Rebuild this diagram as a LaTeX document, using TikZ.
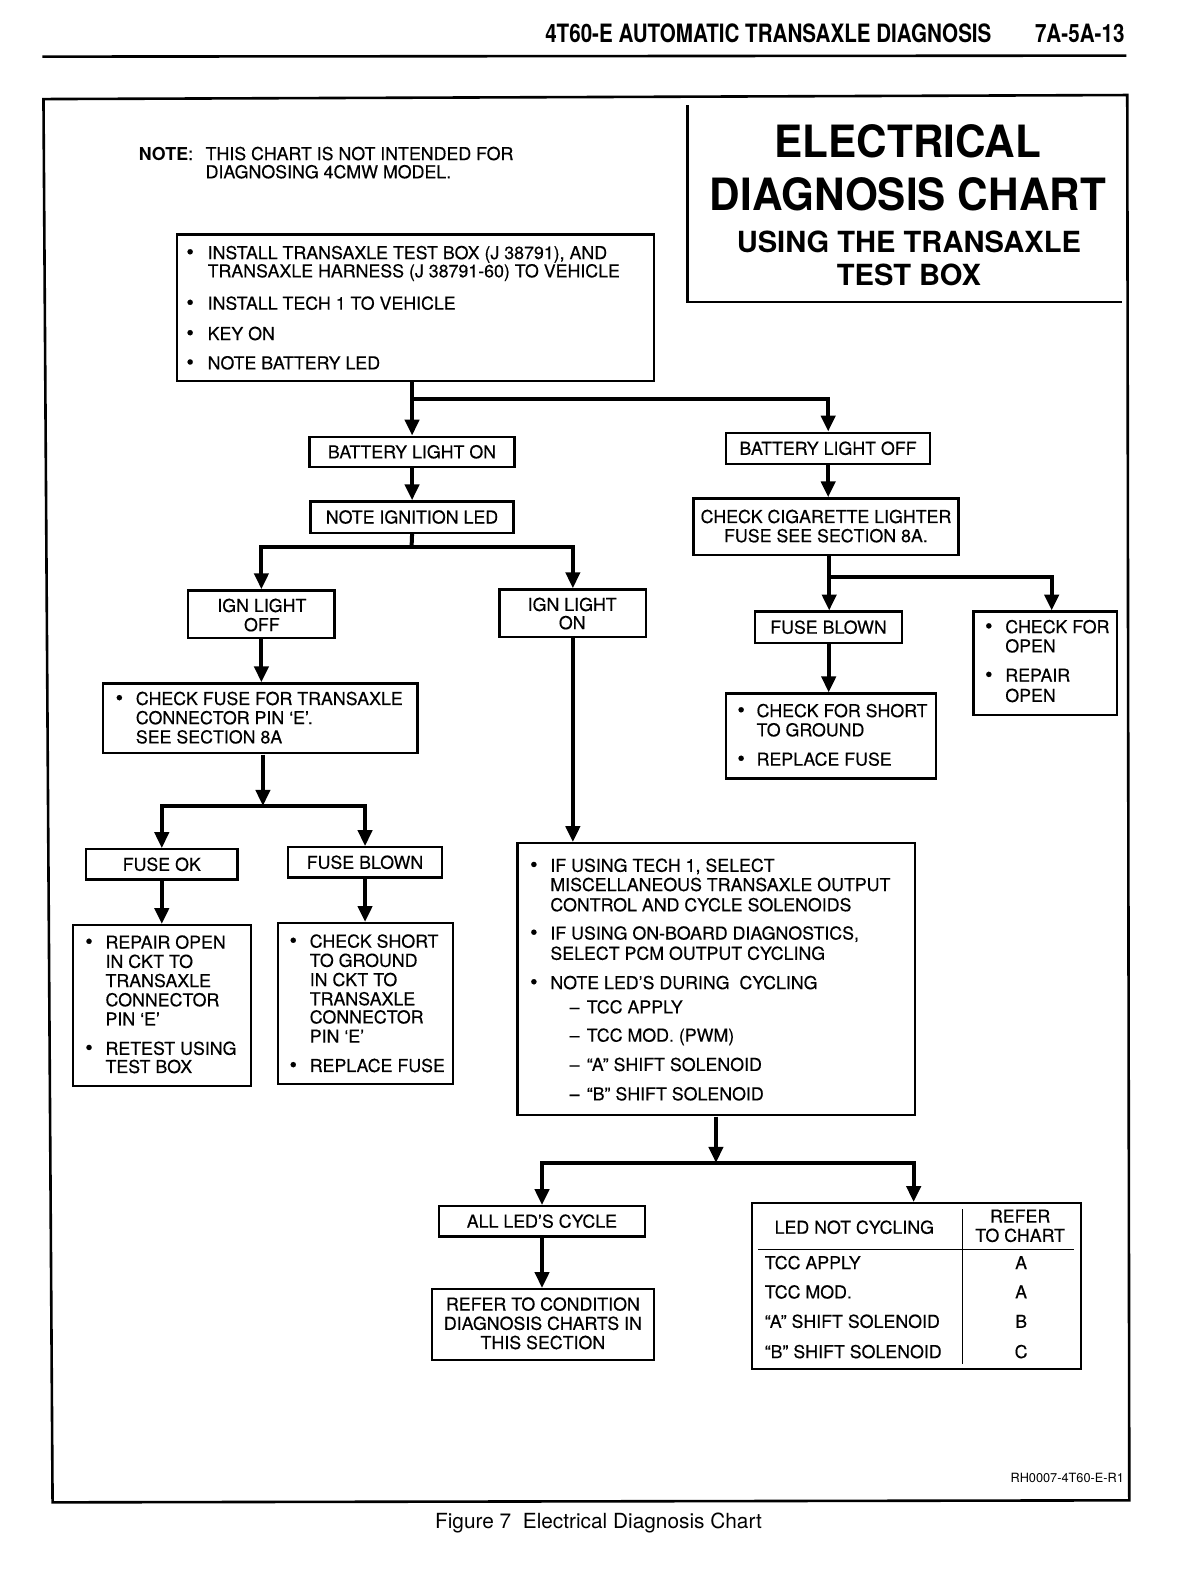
\documentclass[tikz,border=0pt]{standalone}
\usepackage{fontspec}
\setmainfont{TeX Gyre Heros}
\newfontfamily\bodyfam{TeX Gyre Heros}[FakeBold=0.35]
\usetikzlibrary{arrows.meta}
\newcounter{tn}
\tikzset{
  bodyfont/.style={font=\bodyfam\fontsize{8.8}{10}\selectfont},
  box/.style={draw, line width=1.2pt, inner sep=0pt, bodyfont, text height=6.3pt, text depth=0pt},
  txt/.style={inner sep=0pt, bodyfont, text height=6.3pt, text depth=0pt},
  tl/.style={txt, anchor=west},
  tc/.style={txt, anchor=center},
  arr/.style={line width=2pt, -{Triangle[length=8pt,width=7pt]}},
  ln/.style={line width=2pt},
  frame/.style={line width=1.3pt},
}
\newcommand\bx[6]{\node[box, minimum width={(#4-#2)*0.5pt}, minimum height={(#5-#3)*0.5pt}] (#1) at ({(#2+#4)/2},{(#3+#5)/2}) {#6};}
\newcommand\TL[3]{\stepcounter{tn}\node[tl] (t\thetn) at (#1,#2) {#3};}
\newcommand\TC[3]{\stepcounter{tn}\node[tc] (t\thetn) at (#1,#2) {#3};}
\newcommand\BL[4]{\TL{#1}{#3}{\fontsize{10.5}{10}\selectfont •}\TL{#2}{#3}{#4}}
\begin{document}
\begin{tikzpicture}[x=0.5pt,y=-0.5pt]
\fill[white] (0,0) rectangle (1200,1584);
\begin{scope}[scale=1.011, every node/.append style={transform shape}]

% header
\node[inner sep=0pt, font=\fontsize{12.5}{13}\selectfont\bfseries, text height=9pt, text depth=0pt] (hd1) at (760,33) {\scalebox{0.815}[1]{4T60-E AUTOMATIC TRANSAXLE DIAGNOSIS}};
\node[inner sep=0pt, font=\fontsize{12.5}{13}\selectfont\bfseries, text height=9pt, text depth=0pt] (hd2) at (1068,33) {\scalebox{0.815}[1]{7A-5A-13}};
\draw[line width=1.3pt] (42,56) -- (1114,55);

% outer frame
\draw[frame] (43,98) -- (1115,94) -- (1117,1484) -- (52,1486) -- cycle;

% title box
\draw[line width=1.2pt] (680,104) -- (680,299) -- (1110,299);
\node[inner sep=0pt, font=\fontsize{22}{22}\selectfont\bfseries, text height=15.8pt, text depth=0pt] (ti1) at (898,140) {\scalebox{0.95}[1]{ELECTRICAL}};
\node[inner sep=0pt, font=\fontsize{22}{22}\selectfont\bfseries, text height=15.8pt, text depth=0pt] (ti2) at (898,192) {\scalebox{0.95}[1]{DIAGNOSIS CHART}};
\node[inner sep=0pt, font=\fontsize{14.4}{15}\selectfont\bfseries, text height=10.3pt, text depth=0pt] (ti3) at (899,239) {USING THE TRANSAXLE};
\node[inner sep=0pt, font=\fontsize{14.4}{15}\selectfont\bfseries, text height=10.3pt, text depth=0pt] (ti4) at (899,272) {TEST BOX};

% note
\TL{137}{152}{{\normalfont\fontsize{8.8}{10}\selectfont\bfseries NOTE}:}
\TL{203}{152}{THIS CHART IS NOT INTENDED FOR}
\TL{203}{170}{DIAGNOSING 4CMW MODEL.}

% boxes
\bx{inst}{175}{232}{647}{377}{}
\bx{bon}{306}{432}{509}{462}{BATTERY LIGHT ON}
\bx{nil}{307}{496}{508}{527}{NOTE IGNITION LED}
\bx{ignoff}{186}{584}{331}{631}{}
\bx{ignon}{494}{583}{639}{630}{}
\bx{cf}{102}{676}{413}{745}{}
\bx{fok}{85}{840}{235}{870}{FUSE OK}
\bx{fbl}{285}{838}{437}{868}{FUSE BLOWN}
\bx{ro}{72}{915}{248}{1074}{}
\bx{cs}{275}{913}{448}{1072}{}
\bx{big}{512}{834}{905}{1103}{}
\bx{all}{434}{1193}{638}{1223}{ALL LED’S CYCLE}
\bx{ref}{427}{1275}{647}{1345}{}
\bx{tab}{744}{1190}{1069}{1354}{}
\bx{boff}{718}{428}{920}{459}{BATTERY LIGHT OFF}
\bx{cig}{686}{493}{948}{549}{}
\bx{fbr}{747}{605}{892}{636}{FUSE BLOWN}
\bx{cfo}{963}{605}{1105}{707}{}
\bx{cfs}{718}{686}{926}{770}{}

% install box text
\BL{184}{205}{250}{INSTALL TRANSAXLE TEST BOX (J 38791), AND}
\TL{205}{268}{TRANSAXLE HARNESS (J 38791-60) TO VEHICLE}
\BL{184}{205}{300}{INSTALL TECH 1 TO VEHICLE}
\BL{184}{205}{330}{KEY ON}
\BL{184}{205}{359}{NOTE BATTERY LED}

% ign boxes
\TC{259}{599}{IGN LIGHT}
\TC{259}{618}{OFF}
\TC{566}{598}{IGN LIGHT}
\TC{566}{616}{ON}

% check fuse
\BL{114}{134}{691}{CHECK FUSE FOR TRANSAXLE}
\TL{134}{710}{CONNECTOR PIN ‘E’.}
\TL{134}{729}{SEE SECTION 8A}

% repair open
\BL{84}{104}{932}{REPAIR OPEN}
\TL{104}{951}{IN CKT TO}
\TL{104}{970}{TRANSAXLE}
\TL{104}{989}{CONNECTOR}
\TL{104}{1008}{PIN ‘E’}
\BL{84}{104}{1037}{RETEST USING}
\TL{104}{1055}{TEST BOX}

% check short
\BL{286}{306}{931}{CHECK SHORT}
\TL{306}{950}{TO GROUND}
\TL{306}{969}{IN CKT TO}
\TL{306}{988}{TRANSAXLE}
\TL{306}{1006}{CONNECTOR}
\TL{306}{1025}{PIN ‘E’}
\BL{286}{306}{1054}{REPLACE FUSE}

% big box
\BL{524}{544}{856}{IF USING TECH 1, SELECT}
\TL{544}{875}{MISCELLANEOUS TRANSAXLE OUTPUT}
\TL{544}{895}{CONTROL AND CYCLE SOLENOIDS}
\BL{524}{544}{923}{IF USING ON-BOARD DIAGNOSTICS,}
\TL{544}{943}{SELECT PCM OUTPUT CYCLING}
\BL{524}{544}{972}{NOTE LED’S DURING \ CYCLING}
\TL{563}{996}{–}\TL{580}{996}{TCC APPLY}
\TL{563}{1024}{–}\TL{580}{1024}{TCC MOD. (PWM)}
\TL{563}{1053}{–}\TL{580}{1053}{“A” SHIFT SOLENOID}
\TL{563}{1082}{–}\TL{580}{1082}{“B” SHIFT SOLENOID}

% refer to condition
\TC{537}{1290}{REFER TO CONDITION}
\TC{537}{1309}{DIAGNOSIS CHARTS IN}
\TC{537}{1328}{THIS SECTION}

% table
\draw[line width=0.8pt] (952,1196) -- (952,1349);
\draw[line width=0.8pt] (750,1236) -- (1062,1236);
\TC{845}{1214}{LED NOT CYCLING}
\TC{1009}{1203}{REFER}
\TC{1009}{1222}{TO CHART}
\TL{756}{1249}{TCC APPLY}\TC{1010}{1249}{A}
\TL{756}{1278}{TCC MOD.}\TC{1010}{1278}{A}
\TL{756}{1307}{“A” SHIFT SOLENOID}\TC{1010}{1307}{B}
\TL{756}{1337}{“B” SHIFT SOLENOID}\TC{1010}{1337}{C}

% right branch texts
\TC{817}{511}{CHECK CIGARETTE LIGHTER}
\TC{817}{530}{FUSE SEE SECTION 8A.}
\BL{974}{994}{620}{CHECK FOR}
\TL{994}{639}{OPEN}
\BL{974}{994}{668}{REPAIR}
\TL{994}{688}{OPEN}
\BL{729}{748}{703}{CHECK FOR SHORT}
\TL{748}{722}{TO GROUND}
\BL{729}{748}{751}{REPLACE FUSE}

% connectors
\coordinate (j1) at (407,395);
\draw[arr] (inst.south -| bon.north) -- (bon.north);
\draw[arr] (j1) -| (boff.north);
\draw[arr] (bon.south) -- (nil.north);
\coordinate (j2) at (407,541);
\draw[ln] (nil.south) -- (j2);
\draw[arr] (j2) -| (ignoff.north);
\draw[arr] (j2) -| (ignon.north);
\draw[arr] (ignoff.south) -- (ignoff.south |- cf.north);
\coordinate (j3) at (260,797);
\draw[arr] (cf.south -| j3) -- (j3);
\draw[arr] (j3) -| (fok.north);
\draw[arr] (j3) -| (fbl.north);
\draw[arr] (fok.south) -- (fok.south |- ro.north);
\draw[arr] (fbl.south) -- (fbl.south |- cs.north);
\draw[arr] (ignon.south) -- (ignon.south |- big.north);
\coordinate (j4) at (708,1150);
\draw[arr] (big.south -| j4) -- (j4);
\draw[arr] (j4) -| (all.north);
\draw[arr] (j4) -| ([xshift=-1.5pt]tab.north);
\draw[arr] (all.south) -- (all.south |- ref.north);
\draw[arr] (boff.south) -- (boff.south |- cig.north);
\coordinate (j5) at (820,571);
\draw[arr] (cig.south -| j5) -- (j5 |- fbr.north);
\draw[arr] (j5) -| ([xshift=3pt]cfo.north);
\draw[arr] (fbr.south) -- (fbr.south |- cfs.north);

% footer
\node[inner sep=0pt, anchor=east, font=\fontsize{6.3}{7}\selectfont, text height=4.5pt, text depth=0pt] (rh) at (1112,1462) {RH0007-4T60-E-R1};
\node[inner sep=0pt, font=\fontsize{10.3}{11}\selectfont, text height=7.4pt, text depth=0pt] (cap) at (592,1504) {Figure 7\ \ Electrical Diagnosis Chart};
\end{scope}
\end{tikzpicture}
\end{document}
